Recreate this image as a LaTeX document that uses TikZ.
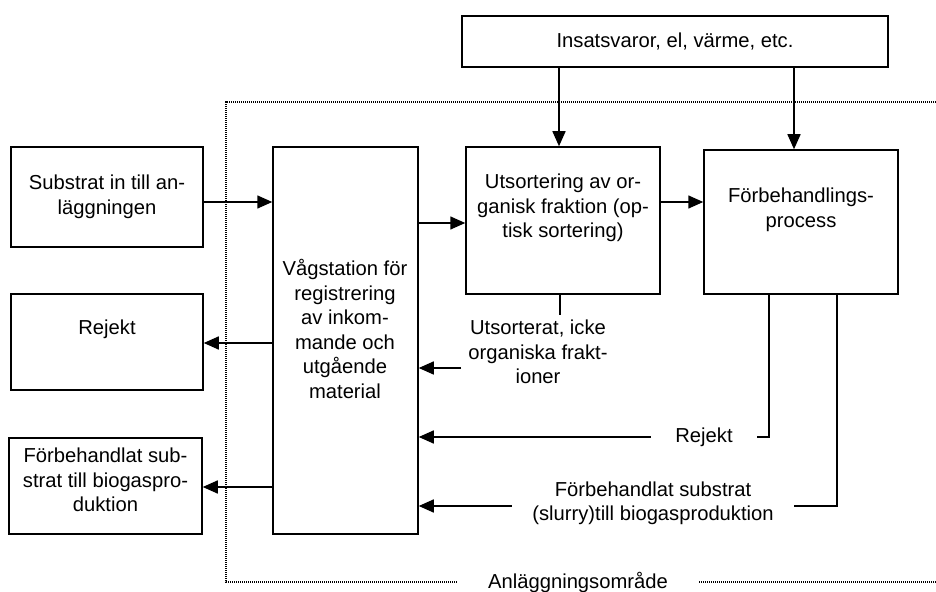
\documentclass[tikz,border=0pt]{standalone}
\usepackage{fontspec}
\setmainfont{Liberation Sans}
\usetikzlibrary{arrows.meta}
\begin{document}
\begin{tikzpicture}[x=0.5pt,y=-0.5pt,
 box/.style={draw, line width=0.75pt, inner sep=0pt},
 txt/.style={align=center, font=\fontsize{10.1}{12.25}\selectfont, inner sep=0pt},
 flow/.style={line width=0.75pt},
 arr/.style={flow, -{Triangle[length=7.5pt,width=6.5pt]}},
 area/.style={dash pattern=on 0.5pt off 0.5pt, line width=0.6pt}]
\useasboundingbox (0,0) rectangle (936,592);
% boxes
\node[box, minimum width=213pt, minimum height=25.5pt] (ins) at (675,41.5) {};
\node[box, minimum width=96pt, minimum height=50pt] (sub) at (107,197) {};
\node[box, minimum width=72.5pt, minimum height=193.5pt] (vag) at (345.5,340.5) {};
\node[box, minimum width=97pt, minimum height=73.5pt] (uts) at (563,220.5) {};
\node[box, minimum width=97pt, minimum height=72pt] (fb) at (801,222) {};
\node[box, minimum width=96pt, minimum height=48pt] (rej) at (107,342) {};
\node[box, minimum width=96.5pt, minimum height=48pt] (fbs) at (105.5,486) {};
% box texts
\node[txt] (insT) at (675,41) {Insatsvaror, el, värme, etc.};
\node[txt] (subT) at (107,197) {Substrat in till an-\\läggningen};
\node[txt] (vagT) at (345,329) {Vågstation för\\registrering\\av inkom-\\mande och\\utgående\\material};
\node[txt] (utsT) at (563,208) {Utsortering av or-\\ganisk fraktion (op-\\tisk sortering)};
\node[txt] (fbT) at (801,210) {Förbehandlings-\\process};
\node[txt] (rejT) at (107,329) {Rejekt};
\node[txt] (fbsT) at (105.5,480) {Förbehandlat sub-\\strat till biogaspro-\\duktion};
% flow labels
\node[txt, inner xsep=3.5pt, inner ysep=2.5pt] (utsL) at (538,352) {Utsorterat, icke\\organiska frakt-\\ioner};
\node[txt, inner xsep=12pt] (rejL) at (704,437) {Rejekt};
\node[txt, inner xsep=10pt] (fbL) at (653,503.5) {Förbehandlat substrat\\(slurry)till biogasproduktion};
\node[txt, inner xsep=15.5pt, anchor=base] (areaL) at (578,588) {Anläggningsområde};
% helper coordinates
\coordinate (c1) at (559,0);
\coordinate (c2) at (794,0);
\coordinate (c3) at (560,0);
\coordinate (c4) at (769,0);
\coordinate (c5) at (837,0);
\coordinate (r1) at (0,202);
\coordinate (r2) at (0,223);
\coordinate (r3) at (0,343);
\coordinate (r4) at (0,487);
\coordinate (r5) at (0,368);
\coordinate (r6) at (0,437);
\coordinate (r7) at (0,506);
\coordinate (aTL) at (226,102);
\coordinate (aTR) at (936,102);
\coordinate (aBR) at (936,582);
% area
\draw[area] (areaL.west |- aBR) -| (aTL) -- (aTR);
\draw[area] (areaL.east |- aBR) -- (aBR);
% connectors
\draw[arr] (ins.south -| c1) -- (uts.north -| c1);
\draw[arr] (ins.south -| c2) -- (fb.north -| c2);
\draw[arr] (sub.east |- r1) -- (vag.west |- r1);
\draw[arr] (vag.east |- r2) -- (uts.west |- r2);
\draw[arr] (uts.east |- r1) -- (fb.west |- r1);
\draw[arr] (vag.west |- r3) -- (rej.east |- r3);
\draw[arr] (vag.west |- r4) -- (fbs.east |- r4);
\draw[flow] (uts.south -| c3) -- (utsL.north -| c3);
\draw[arr] (utsL.west |- r5) -- (vag.east |- r5);
\draw[flow] (fb.south -| c4) -- (c4 |- r6) -- (rejL.east |- r6);
\draw[arr] (rejL.west |- r6) -- (vag.east |- r6);
\draw[flow] (fb.south -| c5) -- (c5 |- r7) -- (fbL.east |- r7);
\draw[arr] (fbL.west |- r7) -- (vag.east |- r7);
\end{tikzpicture}
\end{document}
